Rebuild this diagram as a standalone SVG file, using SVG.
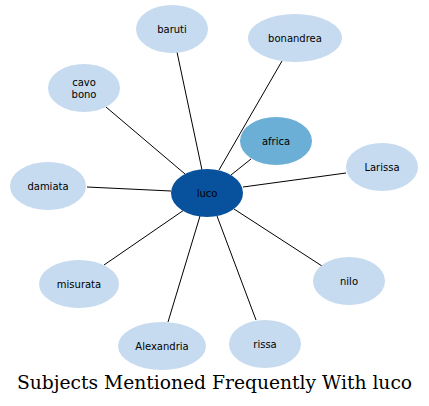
<svg xmlns="http://www.w3.org/2000/svg" width="429" height="406" viewBox="0 0 429 406">
<style>
.n{fill:#c6dbef;stroke:none}
.t{font-family:"DejaVu Sans",sans-serif;font-size:10px;fill:#000;text-anchor:middle}
.e line{stroke:#000;stroke-width:1}
.title{font-family:"DejaVu Serif",serif;font-size:18.7px;fill:#000;text-anchor:middle}
</style>
<rect width="429" height="406" fill="#fff"/>
<g class="e" id="edges">
<line x1="202" y1="170" x2="177" y2="52"/>
<line x1="219" y1="170" x2="282" y2="61"/>
<line x1="185" y1="174" x2="106" y2="107"/>
<line x1="231" y1="175" x2="251" y2="159"/>
<line x1="243" y1="187" x2="346" y2="173"/>
<line x1="171" y1="191" x2="87" y2="187"/>
<line x1="184" y1="210" x2="104" y2="265"/>
<line x1="234" y1="209" x2="322" y2="266"/>
<line x1="200" y1="216" x2="168" y2="322"/>
<line x1="217" y1="216" x2="256" y2="320"/>
</g>
<g id="baruti"><ellipse class="n" cx="172" cy="29" rx="36" ry="24"/><text class="t" x="172" y="32.5">baruti</text></g>
<g id="bonandrea"><ellipse class="n" cx="295" cy="38" rx="47" ry="24"/><text class="t" x="295" y="41.5">bonandrea</text></g>
<g id="cavo_bono"><ellipse class="n" cx="84" cy="88" rx="36" ry="24"/><text class="t" x="84" y="85.5">cavo</text><text class="t" x="84" y="97.5">bono</text></g>
<g id="africa"><ellipse cx="276" cy="141" rx="36" ry="24" fill="#6baed6"/><text class="t" x="276" y="144.5">africa</text></g>
<g id="Larissa"><ellipse class="n" cx="382" cy="167" rx="36" ry="24"/><text class="t" x="382" y="170.5">Larissa</text></g>
<g id="damiata"><ellipse class="n" cx="48" cy="186" rx="38" ry="24"/><text class="t" x="48" y="189.5">damiata</text></g>
<g id="luco"><ellipse cx="207" cy="193" rx="36" ry="24" fill="#08519c"/><text class="t" x="207" y="196.5">luco</text></g>
<g id="misurata"><ellipse class="n" cx="79" cy="284" rx="40" ry="24"/><text class="t" x="79" y="287.5">misurata</text></g>
<g id="nilo"><ellipse class="n" cx="349" cy="281" rx="36" ry="24"/><text class="t" x="349" y="284.5">nilo</text></g>
<g id="Alexandria"><ellipse class="n" cx="162" cy="346" rx="44" ry="24"/><text class="t" x="162" y="349.5">Alexandria</text></g>
<g id="rissa"><ellipse class="n" cx="265" cy="344" rx="36" ry="24"/><text class="t" x="265" y="347.5">rissa</text></g>
<text class="title" x="214.5" y="389">Subjects Mentioned Frequently With luco</text>
</svg>
